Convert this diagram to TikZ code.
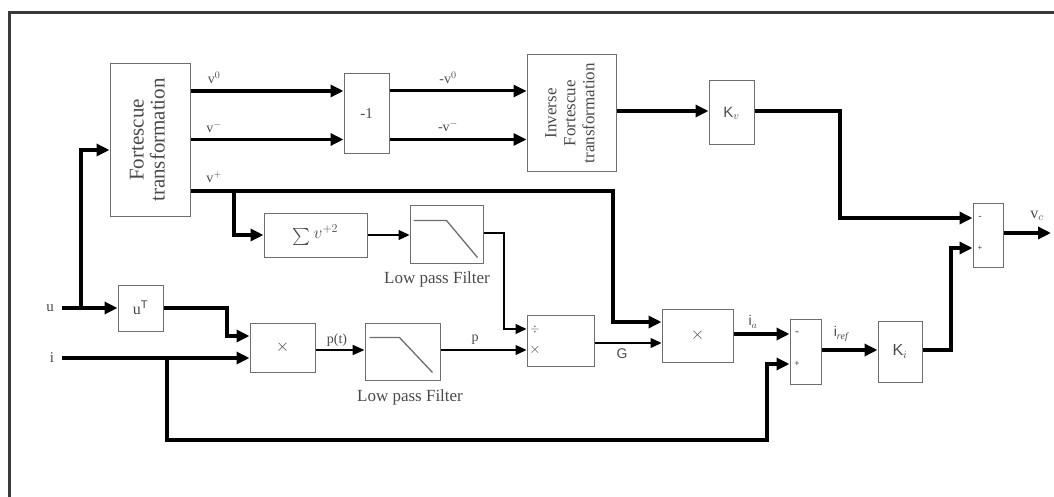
\documentclass[tikz,border=0pt]{standalone}
\usepackage{fontspec}
\setmainfont{Liberation Serif}
\setsansfont{Liberation Sans}
\usetikzlibrary{arrows.meta,calc}
\definecolor{boxgray}{HTML}{6E6E6E}
\definecolor{txtgray}{HTML}{4A4A4A}
\definecolor{framegray}{HTML}{3A3A3A}
\tikzset{
  blk/.style={draw=boxgray, line width=1pt, inner sep=0pt, text=txtgray, align=center},
  lbl/.style={inner sep=0pt, text=txtgray, font=\fontsize{14}{14}\selectfont},
  slbl/.style={inner sep=0pt, text=txtgray, font=\sffamily\fontsize{14}{14}\selectfont},
  heavy/.style={line width=3.8pt, -{Triangle[length=13pt,width=12pt]}},
  heavyline/.style={line width=3.8pt},
  medium/.style={line width=2pt, -{Triangle[length=12pt,width=10pt]}},
  light/.style={line width=1.3pt, -{Triangle[length=11pt,width=10pt]}},
  lpfsym/.style={draw=boxgray, line width=1.3pt},
}
\begin{document}
\begin{tikzpicture}[x=1pt,y=-1pt]
\useasboundingbox (0,0) rectangle (1054,497);
\fill[white] (0,0) rectangle (1054,497);
\draw[framegray, line width=3pt] (9,13) rectangle (1075,520);

% blocks
\node[blk, minimum width=80pt, minimum height=152pt] (FT) at (150,140)
  {\rotatebox{90}{\fontsize{21}{21}\selectfont\begin{tabular}{@{}c@{}}Fortescue\\transformation\end{tabular}}};
\node[blk, minimum width=45pt, minimum height=80pt, font=\fontsize{15}{15}\selectfont] (neg) at (366.5,114) {-1};
\node[blk, minimum width=89pt, minimum height=117.5pt] (IFT) at (571.5,113.25)
  {\rotatebox{90}{\fontsize{17}{19}\selectfont\begin{tabular}{@{}c@{}}Inverse\\Fortescue\\transformation\end{tabular}}};
\node[blk, minimum width=45pt, minimum height=64pt, font=\sffamily\fontsize{15}{15}\selectfont] (Kv) at (731.5,113) {K$_v$};
\node[blk, minimum width=30pt, minimum height=64pt] (SumF) at (988,235) {};
\node[blk, minimum width=103pt, minimum height=44pt] (Sig) at (315.5,235)
  {\fontsize{17}{17}\selectfont\raisebox{-0.35em}{\scalebox{1.7}{$\sum$}}\,$v^{+2}$};
\node[blk, minimum width=73pt, minimum height=58pt] (LPF1) at (446.5,234) {};
\node[blk, minimum width=45pt, minimum height=46pt, font=\fontsize{16}{16}\selectfont] (uT) at (140.5,308) {u$^{\mathsf{T}}$};
\node[blk, minimum width=65pt, minimum height=49pt, font=\sffamily\fontsize{16}{16}\selectfont] (M1) at (282.5,347.5) {$\times$};
\node[blk, minimum width=75pt, minimum height=57pt] (LPF2) at (402.5,351.5) {};
\node[blk, minimum width=67pt, minimum height=51pt] (Div) at (560.5,340.5) {};
\node[blk, minimum width=71pt, minimum height=53pt, font=\sffamily\fontsize{17}{17}\selectfont] (M2) at (697.5,335.5) {$\times$};
\node[blk, minimum width=31pt, minimum height=65pt] (S2) at (805.5,351.5) {};
\node[blk, minimum width=44pt, minimum height=61pt, font=\sffamily\fontsize{16}{16}\selectfont] (Ki) at (900,351.5) {K$_i$};

% filter symbols
\draw[lpfsym] ($(LPF1.north west)+(4,16)$) -- +(33,0) -- ($(LPF1.north west)+(68,53)$);
\draw[lpfsym] ($(LPF2.north west)+(5,15)$) -- +(30,0) -- ($(LPF2.north west)+(68,50)$);
\node[lbl, font=\fontsize{17}{17}\selectfont] (LP1t) at (437,279) {Low pass Filter};
\node[lbl, font=\fontsize{17}{17}\selectfont] (LP2t) at (410,397) {Low pass Filter};

% signs inside boxes
\node[lbl, font=\fontsize{13}{13}\selectfont] (dv) at (535,329) {$\div$};
\node[slbl, font=\sffamily\fontsize{15}{15}\selectfont] (mx) at (535,350) {$\times$};
\node[slbl, font=\sffamily\fontsize{12}{12}\selectfont] (s2m) at (797,334) {-};
\node[slbl, font=\sffamily\fontsize{9}{9}\selectfont] (s2p) at (797,364) {+};
\node[slbl, font=\sffamily\fontsize{10}{10}\selectfont] (sfm) at (980,218) {-};
\node[slbl, font=\sffamily\fontsize{8}{8}\selectfont] (sfp) at (980,248) {+};

% input labels
\node[lbl, font=\fontsize{15}{15}\selectfont] (ulab) at (50,308) {u};
\node[lbl, font=\fontsize{15}{15}\selectfont] (ilab) at (52,358) {i};

% signal labels
\node[lbl] (l1) at (214,78) {v$^0$};
\node[lbl] (l2) at (214,127) {v$^-$};
\node[lbl] (l3) at (214,177) {v$^+$};
\node[lbl] (l4) at (448,78) {-v$^0$};
\node[lbl] (l5) at (448,126) {-v$^-$};
\node[lbl] (l6) at (337,340) {p(t)};
\node[lbl] (l7) at (475,340) {p};
\node[slbl] (l8) at (622,354) {G};
\node[slbl] (l9) at (753,322) {i$_a$};
\node[slbl] (l10) at (841,334) {i$_{\mathit{ref}}$};
\node[lbl, font=\fontsize{16}{16}\selectfont] (l11) at (1037,216) {v$_c$};

% coordinates
\coordinate (ju) at (81,308);
\coordinate (jv) at (234,191);
\coordinate (ji) at (167,358);
\coordinate (vout) at (1051,233);

% connectors
\draw[heavy] ([xshift=8pt]ulab.east) -- (uT.west);
\draw[heavy] (ju) |- ($(FT.west)+(0,10)$);
\draw[heavy] (FT.east |- 0,91) -- (neg.west |- 0,91);
\draw[heavy] (FT.east |- 0,139.5) -- (neg.west |- 0,139.5);
\draw[heavy, line width=3pt] (neg.east |- 0,91) -- (IFT.west |- 0,91);
\draw[heavy, line width=3pt] (neg.east |- 0,139.5) -- (IFT.west |- 0,139.5);
\draw[heavy] (IFT.east |- 0,111) -- (Kv.west |- 0,111);
\draw[heavy] (Kv.east |- 0,111) -- (840,111) -- (840,218) -- (SumF.west |- 0,218);
\draw[heavy] (FT.east |- 0,191) -- (613,191) -- (613,322) -- (M2.west |- 0,322);
\draw[heavy] (jv) |- (Sig.west);
\draw[light] (Sig.east) -- (LPF1.west |- Sig.east);
\draw[light] (LPF1.east |- 0,233) -- (504,233) |- (Div.west |- 0,329);
\draw[heavy] (uT.east |- 0,308) -- (227,308) |- (M1.west |- 0,336);
\draw[heavy] ([xshift=8pt]ilab.east) -- (M1.west |- ilab);
\draw[heavy] (ji) |- (767,440) |- (S2.west |- 0,364);
\draw[medium] (M1.east |- 0,350) -- (LPF2.west |- 0,350);
\draw[light] (LPF2.east |- 0,350) -- (Div.west |- 0,350);
\draw[light] (Div.east |- 0,343) -- (M2.west |- 0,343);
\draw[heavy] (M2.east |- 0,334) -- (S2.west |- 0,334);
\draw[heavy] (S2.east |- 0,350) -- (Ki.west |- 0,350);
\draw[heavy] (Ki.east |- 0,350) -- (951,350) |- (SumF.west |- 0,248);
\draw[heavy] (SumF.east |- 0,233) -- (vout);
\end{tikzpicture}
\end{document}
